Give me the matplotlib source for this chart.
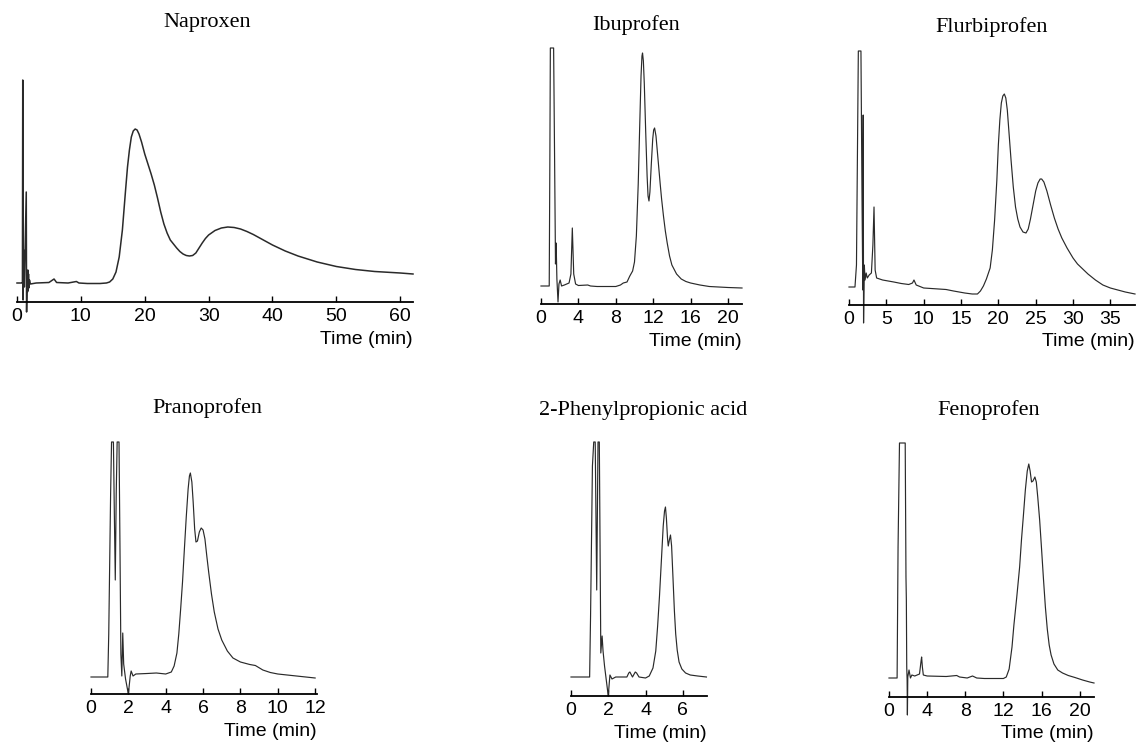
import matplotlib
matplotlib.use("Agg")
import matplotlib.pyplot as plt

# chromatogram traces: time (min) and detector response (arbitrary units)
naproxen_t = [0, 0.8, 0.85, 0.9, 0.95, 1.05, 1.15, 1.45, 1.5, 1.6, 1.65, 1.7, 1.75, 1.8, 1.85,
              1.95, 2.1, 3, 5, 5.8, 6.2, 8, 9.3, 9.7, 11, 13, 14, 14.5, 15, 15.5, 16, 16.5, 17,
              17.3, 17.6, 17.9, 18.2, 18.5, 18.8, 19.1, 19.5, 20, 20.5, 21, 21.5, 22, 22.5, 23,
              23.5, 24, 24.5, 25, 25.5, 26, 26.5, 27, 27.5, 28, 28.5, 29, 29.5, 30, 31, 32, 33,
              34, 35, 36, 37, 38, 39, 40, 41, 42, 43, 44, 45, 47, 50, 53, 56, 60, 62]
naproxen_h = [19, 19, 19, 222, 2, 52, 15, 110, -10, 30, 10, 32, 12, 28, 14,
              22, 18, 19, 19.5, 23, 19.5, 19, 20.5, 19, 18.5, 18.5, 19, 20, 23, 30, 45, 72, 112,
              135, 152, 165, 171, 173, 172, 168, 160, 148, 138, 128, 117, 104, 90, 78,
              69, 62, 58, 54, 50.5, 48, 46.5, 46, 46.5, 49, 54, 59, 63.5, 67, 71.5, 74, 75,
              74.5, 73, 70.5, 67.5, 64, 60.5, 57, 54, 51, 48.5, 46, 44, 40, 35.5, 32.5, 30.5, 29, 28]

ibuprofen_t = [0, 0.88, 0.95, 1.0, 1.1, 1.2, 1.35, 1.45, 1.55, 1.62, 1.7, 1.82, 1.92, 2.05, 2.2,
               2.5, 3.0, 3.2, 3.35, 3.5, 3.7, 4, 5, 5.3, 6, 8, 8.5, 8.8, 9.2, 9.5, 9.8, 10.0,
               10.2, 10.4, 10.55, 10.7, 10.8, 10.86, 10.95, 11.05, 11.2, 11.35, 11.45, 11.55,
               11.65, 11.8, 11.95, 12.05, 12.15, 12.3, 12.45, 12.6, 12.75, 12.9, 13.1, 13.3,
               13.5, 13.75, 14, 14.5, 15, 15.5, 16, 17, 18, 20, 21.5]
ibuprofen_h = [18, 18, 150, 256, 256, 256, 256, 150, 40, 61, 25, 2, 20, 24, 18,
               19, 21, 30, 76, 30, 20, 18.5, 19, 18, 17.5, 17.5, 19, 21, 22, 28, 33, 42,
               68, 120, 175, 228, 248, 251, 243, 220, 172, 128, 108, 103,
               112, 140, 165, 174, 176, 168, 152, 136, 120, 105, 88, 73,
               61, 48, 39, 30, 25, 22.5, 21, 19, 17.5, 16.5, 16]

flurbiprofen_t = [0, 0.8, 1.0, 1.25, 1.6, 1.75, 1.85, 1.9, 1.95, 2.05, 2.15, 2.3, 2.45, 2.7, 3.0,
                  3.2, 3.35, 3.5, 3.7, 4.5, 6, 7, 8, 8.5, 8.7, 9.0, 10, 12, 13, 14, 15.5, 16.5,
                  17.2, 17.6, 18, 18.4, 18.9, 19.2, 19.5, 19.8, 20.0, 20.2, 20.4, 20.6, 20.8,
                  21.0, 21.2, 21.4, 21.7, 22.0, 22.3, 22.6, 22.9, 23.3, 23.7, 24.0, 24.3, 24.7,
                  25.0, 25.3, 25.6, 25.8, 26.1, 26.5, 27.0, 27.5, 28, 28.5, 29.2, 30, 30.6,
                  31.3, 32, 32.5, 33, 34, 35, 36, 37, 38.3]
flurbiprofen_h = [18, 18, 40, 254, 254, 100, 15, 190, -18, 40, 25, 32, 27, 30, 32,
                  60, 98, 35, 27, 25, 23, 21.5, 20.5, 22, 25, 20, 17, 16, 15.5, 14, 12, 11,
                  11, 14, 19, 26, 37, 55, 85, 125, 160, 185, 202, 209, 211,
                  207, 195, 175, 145, 118, 98, 86, 78, 73, 72, 76, 86, 102,
                  114, 122, 126, 126, 123, 114, 100, 87, 76, 67, 57, 47, 41,
                  36, 31, 28, 25, 20, 17, 15, 13, 11]

pranoprofen_t = [0, 0.9, 0.95, 1.05, 1.1, 1.2, 1.25, 1.3, 1.35, 1.4, 1.5, 1.55, 1.6, 1.65, 1.7,
                 1.75, 1.85, 2.0, 2.1, 2.15, 2.25, 2.4, 3, 3.5, 4, 4.3, 4.45, 4.6, 4.7, 4.8, 4.9,
                 5.0, 5.1, 5.2, 5.27, 5.32, 5.4, 5.47, 5.55, 5.62, 5.7, 5.8, 5.9, 6.0, 6.1, 6.2,
                 6.3, 6.45, 6.6, 6.8, 7.0, 7.3, 7.6, 8.0, 8.5, 8.8, 9.2, 9.6, 10, 11, 12]
pranoprofen_h = [17, 17, 60, 200, 252, 252, 180, 114, 200, 252, 252, 150, 40, 18, 61,
                 30, 15, 0, 18, 23, 18, 20, 20.5, 21, 20, 22, 28, 41, 60, 85, 112,
                 145, 177, 205, 218, 221, 212, 192, 165, 152, 153, 162, 166, 164, 155, 138,
                 122, 100, 82, 65, 54, 43, 36, 32, 29.5, 28.5, 24, 21.5, 20, 18, 16]

phenylprop_t = [0, 1.0, 1.05, 1.15, 1.22, 1.3, 1.38, 1.45, 1.52, 1.56, 1.6, 1.67, 1.72, 1.8, 1.9,
                2.0, 2.05, 2.09, 2.2, 2.4, 3.0, 3.1, 3.16, 3.3, 3.45, 3.52, 3.65, 4.0, 4.2, 4.4,
                4.55, 4.65, 4.75, 4.85, 4.95, 5.02, 5.07, 5.12, 5.18, 5.22, 5.28, 5.34, 5.4,
                5.47, 5.55, 5.62, 5.7, 5.8, 5.95, 6.15, 6.4, 6.8, 7.27]
phenylprop_h = [19, 19, 80, 230, 254, 254, 106, 254, 254, 150, 43, 60, 45, 30, 15,
                0, 12, 21, 17, 19, 19, 23, 24, 19, 24, 23, 19, 18, 20, 28,
                45, 70, 100, 135, 170, 185, 189, 178, 158, 150, 156, 161, 150,
                120, 85, 62, 46, 34, 27, 23, 21, 20, 19]

fenoprofen_t = [0, 0.85, 0.95, 1.1, 1.7, 1.78, 1.82, 1.86, 1.9, 1.93, 1.97, 2.1, 2.25, 2.4, 2.7,
                3.2, 3.35, 3.42, 3.5, 3.6, 4, 6, 7.1, 7.4, 8.2, 8.76, 9.2, 10, 12, 12.3, 12.6,
                12.9, 13.1, 13.4, 13.7, 13.9, 14.1, 14.3, 14.5, 14.66, 14.8, 14.95, 15.1, 15.3,
                15.45, 15.6, 15.8, 16.0, 16.2, 16.4, 16.6, 16.8, 17.0, 17.3, 17.7, 18.2, 18.8,
                19.5, 20.3, 21.05, 21.5]
fenoprofen_h = [19, 19, 150, 254, 254, 120, 97, 30, 17, -18, 20, 27, 19, 22, 21,
                23, 35, 40, 30, 22, 21, 20.5, 21.5, 20, 19, 21, 19, 18.5, 18.5, 20, 28,
                50, 72, 100, 130, 158, 182, 207, 226, 233, 226, 215, 216, 220,
                215, 200, 177, 148, 118, 90, 68, 52, 42, 33, 27, 24, 21.5,
                19.5, 17, 15, 14]

titles = ["Naproxen", "Ibuprofen", "Flurbiprofen",
          "Pranoprofen", "2-Phenylpropionic acid", "Fenoprofen"]
ticks = [[0, 10, 20, 30, 40, 50, 60],
         [0, 4, 8, 12, 16, 20],
         [0, 5, 10, 15, 20, 25, 30, 35],
         [0, 2, 4, 6, 8, 10, 12],
         [0, 2, 4, 6],
         [0, 4, 8, 12, 16, 20]]
xmax = [62, 21.5, 38.3, 12.1, 7.3, 21.5]
traces = [(naproxen_t, naproxen_h), (ibuprofen_t, ibuprofen_h),
          (flurbiprofen_t, flurbiprofen_h), (pranoprofen_t, pranoprofen_h),
          (phenylprop_t, phenylprop_h), (fenoprofen_t, fenoprofen_h)]

# layout in pixels: x of time zero, x of axis end, y of axis line, title centre
W, H = 1137, 742
boxes = [(17, 413, 302), (541, 742, 304), (849, 1135, 305),
         (91, 317, 694), (571, 707, 696), (889, 1094, 697)]
title_pos = [(207, 23), (636, 25), (992, 27), (207, 408), (643, 410), (989, 410)]
YTOP = 260

sans = ["Liberation Sans", "DejaVu Sans"]
serif = ["Liberation Serif", "DejaVu Serif"]

fig = plt.figure(figsize=(W / 100, H / 100), dpi=100)

for i in range(6):
    x0, x1, ya = boxes[i]
    ax = fig.add_axes([x0 / W, 1 - ya / H, (x1 - x0) / W, YTOP / H])
    t, h = traces[i]
    ax.plot(t, h, color="#2a2a2a", lw=1.1 if i == 0 else 0.85, clip_on=False,
            solid_joinstyle="round")
    ax.set_xlim(0, xmax[i])
    ax.set_ylim(0, YTOP)
    for s in ["top", "right", "left"]:
        ax.spines[s].set_visible(False)
    ax.spines["bottom"].set_linewidth(1.3)
    ax.set_yticks([])
    ax.set_xticks(ticks[i])
    ax.set_xticklabels([str(v) for v in ticks[i]], family=sans, fontsize=14)
    ax.tick_params(axis="x", direction="in", length=4, width=1, pad=4)
    ax.patch.set_visible(False)
    ax.annotate("Time (min)", xy=(1, 0), xycoords="axes fraction",
                xytext=(0, -37), textcoords="offset pixels",
                ha="right", va="center", family=sans, fontsize=14)
    tx, ty = title_pos[i]
    fig.text(tx / W, 1 - ty / H, titles[i], ha="center", va="center",
             family=serif, fontsize=16)

fig.savefig("out.png", dpi=100)
